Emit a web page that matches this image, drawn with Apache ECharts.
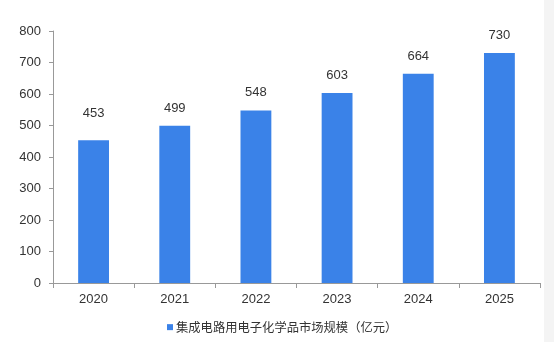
<!DOCTYPE html>
<html><head><meta charset="utf-8">
<script src="https://cdn.jsdelivr.net/npm/echarts@6/dist/echarts.min.js"></script>
<style>html,body{margin:0;padding:0;background:#fff}#c{width:554px;height:342px}</style>
</head><body><div id="c"></div>
<script>
const categories = ['2020','2021','2022','2023','2024','2025'];
const marketSize = [453, 499, 548, 603, 664, 730];
const seriesName = '集成电路用电子化学品市场规模（亿元）';
const yTicks = {min: 0, max: 800, interval: 100};

const chart = echarts.init(document.getElementById('c'));
const font = '"Liberation Sans", Arial, "Noto Sans CJK SC", sans-serif';
chart.setOption({
  animation: false,
  textStyle: {fontFamily: font},
  graphic: [{type: 'rect', left: 544, top: 0, shape: {width: 10, height: 342}, style: {fill: '#f4f4f4'}, z: -1}],
  grid: {left: 53, right: 14, top: 31, bottom: 59},
  legend: {
    left: 167, top: 321, padding: 0, itemWidth: 6, itemHeight: 6, itemGap: 6,
    icon: 'rect',
    textStyle: {fontSize: 12.3, color: '#333', padding: [0, 0, 0, -2], fontFamily: '"Noto Sans CJK SC", sans-serif'},
    data: [seriesName]
  },
  xAxis: {
    type: 'category', data: categories,
    axisLine: {lineStyle: {color: '#999'}},
    axisTick: {show: true, length: 5, lineStyle: {color: '#999'}},
    axisLabel: {color: '#333', fontSize: 13, margin: 10}
  },
  yAxis: {
    type: 'value', min: yTicks.min, max: yTicks.max, interval: yTicks.interval,
    splitLine: {show: false},
    axisLine: {show: true, lineStyle: {color: '#999'}},
    axisTick: {show: true, length: 4, lineStyle: {color: '#999'}},
    axisLabel: {color: '#333', fontSize: 13, margin: 12}
  },
  series: [{
    name: seriesName, type: 'bar', barWidth: '38%',
    itemStyle: {color: '#3a82e8'},
    label: {show: true, position: 'top', distance: 11, color: '#333', fontSize: 13},
    data: marketSize.map((v, i) => i === 0 ? {value: v, label: {distance: 20}} : v)
  }]
});
</script></body></html>
